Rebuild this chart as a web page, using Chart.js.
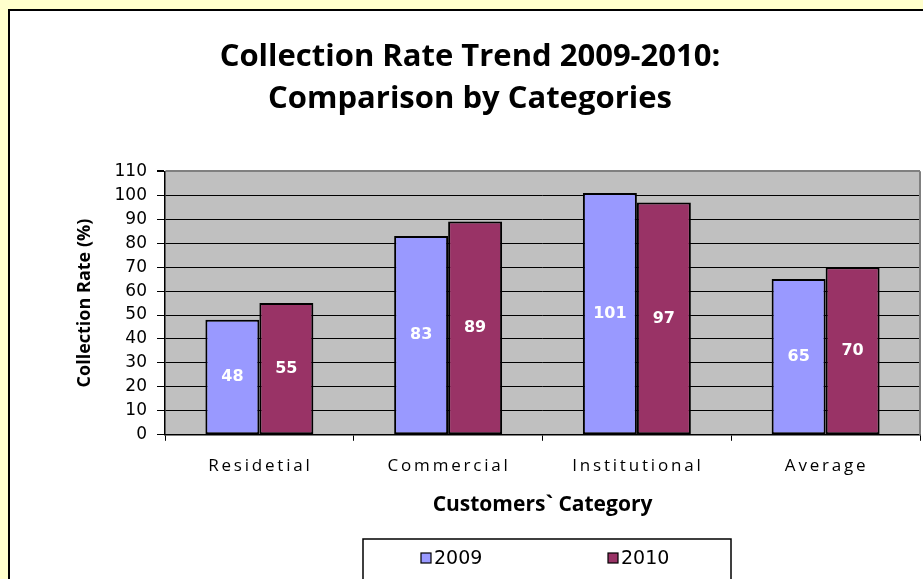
<!DOCTYPE html>
<html>
<head>
<meta charset="utf-8">
<script src="https://cdn.jsdelivr.net/npm/chart.js@4.4.0/dist/chart.umd.min.js"></script>
<style>
  html, body { margin: 0; padding: 0; background: #FFFFCC; }
  canvas { display: block; }
</style>
</head>
<body>
<canvas id="c" width="923" height="579"></canvas>
<script>
const categories = ['Residetial', 'Commercial', 'Institutional', 'Average'];
const seriesNames = ['2009', '2010'];
const rate2009 = [48, 83, 101, 65];
const rate2010 = [55, 89, 97, 70];
const yTickMin = 0, yTickMax = 110, yTickStep = 10;

const colors = ['#9999FF', '#993366'];

// frame, yellow margin and grey plot background
const backgroundPlugin = {
  id: 'background',
  beforeDraw(chart) {
    const { ctx, chartArea } = chart;
    ctx.save();
    ctx.fillStyle = '#FFFFCC';
    ctx.fillRect(0, 0, chart.width, chart.height);
    ctx.fillStyle = '#FFFFFF';
    ctx.fillRect(9, 10, chart.width, chart.height);
    ctx.strokeStyle = '#000';
    ctx.lineWidth = 2;
    ctx.strokeRect(9, 10, chart.width + 10, chart.height + 10);
    if (chartArea) {
      ctx.fillStyle = '#C0C0C0';
      ctx.fillRect(chartArea.left, chartArea.top, chartArea.right - chartArea.left, chartArea.bottom - chartArea.top);
    }
    ctx.restore();
  },
  beforeDatasetsDraw(chart) {
    const { ctx, chartArea } = chart;
    ctx.save();
    ctx.strokeStyle = '#808080';
    ctx.lineWidth = 2;
    ctx.beginPath();
    ctx.moveTo(chartArea.right, chartArea.top);
    ctx.lineTo(chartArea.right, chartArea.bottom);
    ctx.stroke();
    ctx.restore();
  },
};

// white value labels in the middle of each bar
const valueLabelPlugin = {
  id: 'valueLabels',
  afterDatasetsDraw(chart) {
    const { ctx } = chart;
    ctx.save();
    ctx.fillStyle = '#FFFFFF';
    ctx.font = 'bold 16px "DejaVu Sans"';
    ctx.textAlign = 'center';
    ctx.textBaseline = 'middle';
    chart.data.datasets.forEach((ds, di) => {
      chart.getDatasetMeta(di).data.forEach((bar, i) => {
        ctx.fillText(String(ds.data[i]), bar.x, (bar.y + bar.base) / 2);
      });
    });
    ctx.restore();
  },
};

// spaced category labels + boxed legend
const extrasPlugin = {
  id: 'extras',
  afterDraw(chart) {
    const { ctx } = chart;
    const xs = chart.scales.x;
    ctx.save();
    ctx.fillStyle = '#000';
    ctx.font = '17px "Open Sans"';
    ctx.letterSpacing = '2.8px';
    ctx.textAlign = 'center';
    ctx.textBaseline = 'middle';
    chart.data.labels.forEach((lab, i) => {
      ctx.fillText(lab, xs.getPixelForTick(i) + 1, 466);
    });
    ctx.letterSpacing = '0px';

    // legend box
    ctx.fillStyle = '#FFFFFF';
    ctx.fillRect(363, 539, 368, 45);
    ctx.strokeStyle = '#000';
    ctx.lineWidth = 1.5;
    ctx.strokeRect(363, 539, 368, 45);
    const itemX = [421, 608];
    ctx.font = '19px "DejaVu Sans"';
    ctx.textAlign = 'left';
    chart.data.datasets.forEach((ds, di) => {
      const x = itemX[di];
      ctx.fillStyle = ds.backgroundColor;
      ctx.fillRect(x, 553, 10, 10);
      ctx.lineWidth = 1.2;
      ctx.strokeRect(x, 553, 10, 10);
      ctx.fillStyle = '#000';
      ctx.fillText(ds.label, x + 13, 559);
    });
    ctx.restore();
  },
};

new Chart(document.getElementById('c'), {
  type: 'bar',
  data: {
    labels: categories,
    datasets: [
      { label: seriesNames[0], data: rate2009, backgroundColor: colors[0] },
      { label: seriesNames[1], data: rate2010, backgroundColor: colors[1] },
    ],
  },
  options: {
    responsive: false,
    devicePixelRatio: 1,
    animation: false,
    layout: { padding: { left: 20, right: 3, top: 0, bottom: 61 } },
    datasets: {
      bar: {
        borderColor: '#000',
        borderWidth: 2,
        borderSkipped: false,
        categoryPercentage: 0.572,
        barPercentage: 1,
      },
    },
    scales: {
      x: {
        grid: { drawOnChartArea: false, tickLength: 6, color: '#000', offset: true },
        border: { color: '#000', width: 1.5 },
        ticks: { display: false },
        title: {
          display: true,
          text: 'Customers` Category',
          color: '#000',
          font: { family: 'Open Sans', size: 21, weight: 'bold' },
          padding: { top: 52, bottom: 0 },
        },
      },
      y: {
        min: yTickMin,
        max: yTickMax,
        afterFit(s) { s.width = 145; },
        ticks: {
          stepSize: yTickStep,
          autoSkip: false,
          color: '#000',
          padding: 10,
          font: { family: 'DejaVu Sans', size: 17 },
        },
        grid: {
          color: (c) => (c.tick && c.tick.value === yTickMax ? '#808080' : '#000'),
          lineWidth: (c) => (c.tick && c.tick.value === yTickMax ? 2 : 1),
          tickLength: 8,
          tickColor: '#000',
        },
        border: { color: '#000', width: 1.5 },
        title: {
          display: true,
          text: 'Collection Rate (%)',
          color: '#000',
          font: { family: 'Open Sans', size: 18, weight: 'bold' },
          padding: { top: 54, bottom: 0 },
        },
      },
    },
    plugins: {
      legend: { display: false },
      tooltip: { enabled: false },
      title: {
        display: true,
        text: ['Collection Rate Trend 2009-2010:', 'Comparison by Categories'],
        color: '#000',
        font: { family: 'Open Sans', size: 31, weight: 'bold', lineHeight: 1.36 },
        padding: { top: 36, bottom: 51 },
      },
    },
  },
  plugins: [backgroundPlugin, valueLabelPlugin, extrasPlugin],
});
</script>
</body>
</html>
